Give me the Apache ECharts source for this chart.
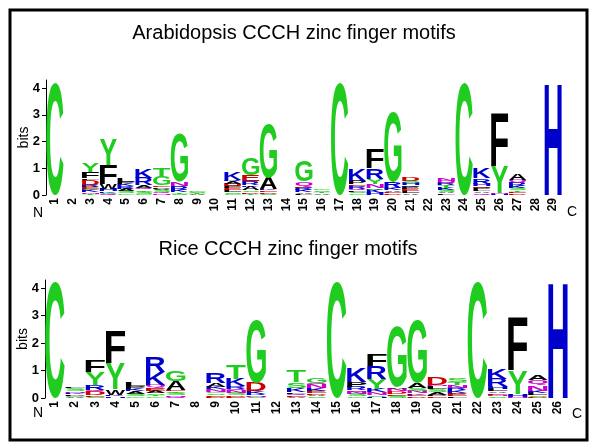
<!DOCTYPE html>
<html>
<head>
<meta charset="utf-8">
<script src="https://cdn.jsdelivr.net/npm/echarts@6/dist/echarts.min.js"></script>
<style>html,body{margin:0;padding:0;background:#fff}#c{width:600px;height:447px}</style>
</head>
<body>
<div id="c"></div>
<script>
// ---------- data (bits per residue, stacked bottom-up) ----------
const arabPositions = Array.from({length: 29}, (_, i) => String(i + 1));
const ricePositions = Array.from({length: 26}, (_, i) => String(i + 1));
const yTicks = [0, 1, 2, 3, 4];

const arabStacks = [
  [['C',4.2]],
  [],
  [['T',0.04],['N',0.06],['K',0.08],['S',0.06],['E',0.07],['R',0.08],['D',0.18],['L',0.06],['F',0.22],['Y',0.31]],
  [['Q',0.04],['S',0.05],['K',0.06],['H',0.07],['W',0.2],['F',0.7],['Y',0.95]],
  [['G',0.06],['S',0.1],['A',0.08],['R',0.08],['K',0.08],['P',0.08],['L',0.12]],
  [['G',0.05],['S',0.08],['T',0.06],['Q',0.08],['A',0.1],['R',0.28],['K',0.35]],
  [['N',0.06],['Q',0.05],['S',0.07],['A',0.06],['P',0.06],['E',0.06],['G',0.32],['T',0.33]],
  [['S',0.05],['T',0.05],['K',0.1],['R',0.15],['N',0.15],['G',1.8]],
  [['A',0.03],['T',0.04],['S',0.06],['G',0.06]],
  [],
  [['G',0.05],['S',0.06],['L',0.07],['E',0.08],['P',0.08],['D',0.08],['A',0.1],['R',0.05],['K',0.27]],
  [['T',0.05],['D',0.06],['S',0.06],['A',0.13],['K',0.06],['R',0.16],['E',0.22],['G',0.62]],
  [['S',0.05],['D',0.06],['E',0.06],['K',0.06],['A',0.42],['G',2.03]],
  [],
  [['L',0.05],['A',0.05],['K',0.08],['R',0.08],['E',0.05],['Q',0.2],['G',0.78]],
  [['A',0.06],['T',0.06],['S',0.06],['G',0.06]],
  [['C',4.2]],
  [['G',0.06],['S',0.06],['L',0.05],['Q',0.07],['R',0.1],['E',0.06],['P',0.12],['K',0.42]],
  [['H',0.08],['K',0.12],['S',0.06],['N',0.14],['Y',0.2],['R',0.4],['F',0.7]],
  [['D',0.06],['E',0.06],['A',0.06],['K',0.08],['R',0.22],['G',2.6]],
  [['A',0.06],['L',0.08],['E',0.08],['P',0.08],['K',0.06],['H',0.08],['S',0.07],['D',0.15]],
  [],
  [['L',0.06],['A',0.06],['S',0.08],['K',0.08],['T',0.08],['R',0.08],['Q',0.1],['N',0.1]],
  [['C',4.2]],
  [['Q',0.08],['A',0.06],['L',0.06],['P',0.08],['E',0.06],['H',0.08],['R',0.2],['K',0.36]],
  [['H',0.03],['N',0.03],['Y',0.98],['F',1.98]],
  [['D',0.06],['E',0.06],['T',0.06],['S',0.08],['K',0.08],['R',0.12],['Q',0.1],['A',0.22]],
  [],
  [['H',4.2]]
];

const riceStacks = [
  [['C',4.21]],
  [['A',0.04],['G',0.04],['P',0.06],['K',0.06],['N',0.06],['S',0.1],['L',0.06]],
  [['S',0.05],['E',0.06],['D',0.12],['Q',0.06],['R',0.18],['Y',0.48],['F',0.4]],
  [['H',0.06],['K',0.06],['W',0.2],['Y',0.95],['F',1.2]],
  [['G',0.06],['S',0.08],['A',0.1],['K',0.08],['P',0.1],['L',0.12]],
  [['G',0.06],['T',0.05],['S',0.06],['A',0.08],['E',0.08],['D',0.06],['Q',0.1],['K',0.45],['R',0.57]],
  [['Q',0.05],['N',0.06],['S',0.08],['T',0.06],['E',0.05],['A',0.32],['G',0.38]],
  [],
  [['D',0.05],['E',0.06],['S',0.06],['G',0.06],['N',0.08],['K',0.1],['A',0.15],['R',0.38]],
  [['E',0.05],['D',0.05],['S',0.08],['N',0.08],['Q',0.06],['R',0.1],['K',0.28],['T',0.52]],
  [['S',0.05],['N',0.05],['R',0.06],['K',0.1],['D',0.3],['G',2.3]],
  [],
  [['A',0.05],['E',0.05],['Q',0.06],['L',0.06],['K',0.15],['S',0.2],['T',0.4]],
  [['S',0.06],['A',0.05],['D',0.06],['E',0.08],['K',0.1],['N',0.15],['Q',0.05],['G',0.2]],
  [['C',4.21]],
  [['G',0.06],['S',0.08],['N',0.08],['Q',0.06],['R',0.12],['P',0.18],['K',0.5]],
  [['H',0.05],['S',0.06],['N',0.1],['K',0.12],['Y',0.38],['R',0.44],['F',0.4]],
  [['S',0.08],['E',0.06],['D',0.1],['N',0.1],['A',0.06],['G',2.2]],
  [['D',0.06],['E',0.06],['K',0.06],['N',0.08],['S',0.1],['A',0.2],['G',2.3]],
  [['E',0.06],['P',0.06],['A',0.1],['S',0.1],['L',0.1],['N',0.06],['D',0.28]],
  [['L',0.06],['E',0.08],['A',0.06],['K',0.08],['R',0.1],['N',0.1],['T',0.1],['S',0.15]],
  [['C',4.21]],
  [['S',0.06],['N',0.06],['E',0.06],['A',0.06],['L',0.1],['H',0.08],['R',0.28],['K',0.36]],
  [['N',0.05],['H',0.1],['Y',0.85],['F',1.93]],
  [['D',0.05],['S',0.06],['L',0.08],['K',0.08],['N',0.2],['Q',0.18],['A',0.2]],
  [['H',4.21]]
];

// ---------- styling ----------
const GREEN = '#1fcc1f', BLUE = '#0000cc', RED = '#cc0000', PURPLE = '#cc00cc', BLACK = '#000000';
const residueColor = {};
'GSTYC'.split('').forEach(c => residueColor[c] = GREEN);
'NQ'.split('').forEach(c => residueColor[c] = PURPLE);
'KRH'.split('').forEach(c => residueColor[c] = BLUE);
'DE'.split('').forEach(c => residueColor[c] = RED);
'AVLIPWFM'.split('').forEach(c => residueColor[c] = BLACK);

const FAMILY = '"Liberation Sans", Arial, sans-serif';
const LETTER_FONT = 'bold 100px ' + FAMILY;
const metricCtx = document.createElement('canvas').getContext('2d');
metricCtx.font = LETTER_FONT;
metricCtx.textAlign = 'left';
metricCtx.textBaseline = 'middle';
const metricsCache = {};
function glyphMetrics(ch) {
  if (!metricsCache[ch]) {
    const m = metricCtx.measureText(ch);
    const L = m.actualBoundingBoxLeft, R = m.actualBoundingBoxRight;
    const A = m.actualBoundingBoxAscent, D = m.actualBoundingBoxDescent;
    metricsCache[ch] = {left: L, asc: A, w: L + R, h: A + D};
  }
  return metricsCache[ch];
}

function buildItems(stacks) {
  const items = [];
  stacks.forEach((stack, i) => {
    let base = 0;
    stack.forEach(([ch, v]) => {
      items.push({cat: i, y0: base, y1: base + v, ch: ch});
      base += v;
    });
  });
  return items;
}
const arabItems = buildItems(arabStacks);
const riceItems = buildItems(riceStacks);

function makeRenderer(items) {
  return function (params, api) {
    const it = items[params.dataIndex];
    const p0 = api.coord([it.cat, it.y0]);
    const p1 = api.coord([it.cat, it.y1]);
    const bw = api.size([1, 0])[0] * 0.97;
    const h = p0[1] - p1[1];
    if (h < 0.25) return null;
    const m = glyphMetrics(it.ch);
    return {
      type: 'text',
      x: p0[0] - bw / 2,
      y: p1[1],
      scaleX: bw / m.w,
      scaleY: h / m.h,
      silent: true,
      style: {
        text: it.ch,
        font: LETTER_FONT,
        fill: residueColor[it.ch],
        x: m.left,
        y: m.asc,
        align: 'left',
        verticalAlign: 'middle',
        textAlign: 'left',
        textVerticalAlign: 'middle'
      }
    };
  };
}

function xAxisCfg(gi, cats) {
  return {
    type: 'category', gridIndex: gi, data: cats, boundaryGap: true,
    axisLine: {show: false}, axisTick: {show: false},
    axisLabel: {interval: 0, rotate: 90, margin: 3, color: '#000',
      fontSize: 12, fontWeight: 'bold', fontFamily: FAMILY}
  };
}
function yAxisCfg(gi) {
  return {
    type: 'value', gridIndex: gi, min: 0, max: 4.3,
    name: 'bits', nameLocation: 'middle', nameGap: 15, nameRotate: 90,
    nameMoveOverlap: false,
    nameTextStyle: {color: '#000', fontSize: 14, fontFamily: FAMILY},
    axisLine: {show: true, lineStyle: {color: '#000', width: 1}},
    axisTick: {show: true, length: 4, lineStyle: {color: '#000'}, customValues: yTicks},
    axisLabel: {color: '#000', fontSize: 13, fontWeight: 'bold', margin: 6,
      fontFamily: FAMILY, customValues: yTicks},
    splitLine: {show: false}
  };
}

const chart = echarts.init(document.getElementById('c'), null, {renderer: 'canvas'});
const txt = (x, y, s, size, weight, align) => ({
  type: 'text', x: x, y: y, silent: true,
  style: {text: s, fill: '#000', font: (weight || 'normal') + ' ' + size + 'px ' + FAMILY,
    align: align || 'center', verticalAlign: 'middle', textAlign: align || 'center', textVerticalAlign: 'middle'}
});

chart.setOption({
  animation: false,
  backgroundColor: '#fff',
  grid: [
    {left: 46, top: 80, width: 516, height: 115},
    {left: 45, top: 280, width: 523, height: 118}
  ],
  xAxis: [xAxisCfg(0, arabPositions), xAxisCfg(1, ricePositions)],
  yAxis: [yAxisCfg(0), yAxisCfg(1)],
  series: [
    {type: 'custom', xAxisIndex: 0, yAxisIndex: 0, renderItem: makeRenderer(arabItems),
      data: arabItems.map(d => [d.cat, d.y0, d.y1]), encode: {x: 0, y: [1, 2]}, clip: false},
    {type: 'custom', xAxisIndex: 1, yAxisIndex: 1, renderItem: makeRenderer(riceItems),
      data: riceItems.map(d => [d.cat, d.y0, d.y1]), encode: {x: 0, y: [1, 2]}, clip: false}
  ],
  graphic: [
    {type: 'rect', silent: true, shape: {x: 10, y: 10, width: 577, height: 430},
      style: {fill: 'none', stroke: '#000', lineWidth: 3}},
    txt(294, 33, 'Arabidopsis CCCH zinc finger motifs', 20),
    txt(288, 249, 'Rice CCCH zinc finger motifs', 20),
    txt(38, 213, 'N', 14),
    txt(572, 212, 'C', 14),
    txt(38, 413, 'N', 14),
    txt(577, 414, 'C', 14)
  ]
});
</script>
</body>
</html>
